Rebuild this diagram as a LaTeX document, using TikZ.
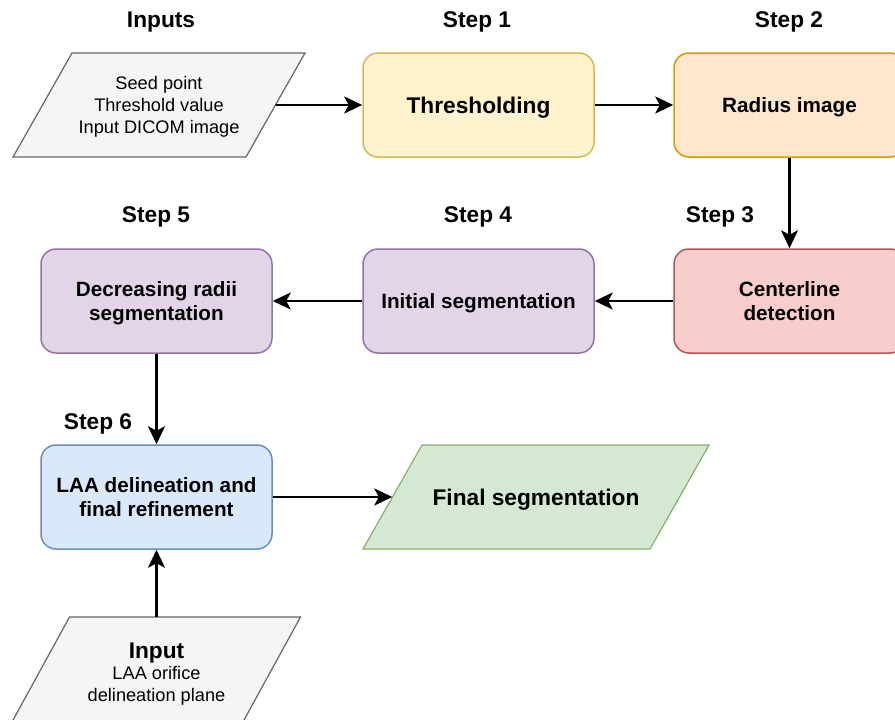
\documentclass[tikz,border=0pt]{standalone}
\usepackage{fontspec}
\setmainfont{Liberation Sans}
\usetikzlibrary{arrows.meta}
\definecolor{grayF}{HTML}{F5F5F5}\definecolor{grayS}{HTML}{666666}
\definecolor{yelF}{HTML}{FFF2CC}\definecolor{yelS}{HTML}{D6B656}
\definecolor{oraF}{HTML}{FFE6CC}\definecolor{oraS}{HTML}{D79B00}
\definecolor{redF}{HTML}{F8CECC}\definecolor{redS}{HTML}{B85450}
\definecolor{purF}{HTML}{E1D5E7}\definecolor{purS}{HTML}{9673A6}
\definecolor{bluF}{HTML}{DAE8FC}\definecolor{bluS}{HTML}{6C8EBF}
\definecolor{grnF}{HTML}{D5E8D4}\definecolor{grnS}{HTML}{82B366}
% parallelogram: center x, center y, top edge length, slant, fill, stroke
\newcommand\myPara[6]{%
  \filldraw[fill=#5, draw=#6, line width=1.2pt]
    ({#1-#3/2+#4/2},{#2-52}) -- ({#1+#3/2+#4/2},{#2-52}) --
    ({#1+#3/2-#4/2},{#2+52}) -- ({#1-#3/2-#4/2},{#2+52}) -- cycle;}
\begin{document}
\begin{tikzpicture}[x=1pt,y=-1pt,
  stepbox/.style={rounded corners=15pt, minimum width=231pt, minimum height=104pt,
    line width=1.5pt, align=center, inner sep=2pt, text depth=0pt,
    font=\fontsize{20.7}{23.3}\selectfont\bfseries},
  bigtext/.style={font=\fontsize{22.7}{26}\selectfont\bfseries},
  paratext/.style={minimum height=104pt, align=center, inner sep=2pt, text depth=0pt,
    font=\fontsize{18.2}{21.8}\selectfont},
  steplabel/.style={font=\fontsize{22.7}{26}\selectfont\bfseries, inner sep=0pt, text depth=0pt},
  conn/.style={line width=2.2pt, -{Stealth[length=18pt,width=17pt,inset=4.5pt]}}
]
\useasboundingbox (0,0) rectangle (895,720);

% parallelogram outlines
\myPara{159}{105}{233}{59}{grayF}{grayS}
\myPara{536}{497}{287}{59}{grnF}{grnS}
\myPara{156.5}{669}{231}{57}{grayF}{grayS}

% nodes
\node[paratext, minimum width=233pt] (in) at (159,105)
  {Seed point\\Threshold value\\Input DICOM image};
\node[stepbox, fill=yelF, draw=yelS, bigtext] (th) at (478.5,105) {Thresholding};
\node[stepbox, fill=oraF, draw=oraS] (rad) at (789.5,105) {Radius image};
\node[stepbox, fill=redF, draw=redS] (cen) at (789.5,301) {Centerline\\detection};
\node[stepbox, fill=purF, draw=purS] (ini) at (478.5,301) {Initial segmentation};
\node[stepbox, fill=purF, draw=purS] (dec) at (156.5,301) {Decreasing radii\\segmentation};
\node[stepbox, fill=bluF, draw=bluS] (laa) at (156.5,497) {LAA delineation and\\final refinement};
\node[paratext, minimum width=287pt, bigtext] (fin) at (536,497) {Final segmentation};
\node[paratext, minimum width=231pt] (inp) at (156.5,672)
  {{\fontsize{22.7}{26}\selectfont\bfseries Input}\\LAA orifice\\delineation plane};
\coordinate (inptop) at (156.5,617);

% labels
\node[steplabel] (l0) at (161,20) {Inputs};
\node[steplabel] (l1) at (477,20) {Step 1};
\node[steplabel] (l2) at (789,20) {Step 2};
\node[steplabel] (l3) at (720,215) {Step 3};
\node[steplabel] (l4) at (478,215) {Step 4};
\node[steplabel] (l5) at (156,215) {Step 5};
\node[steplabel] (l6) at (98,422) {Step 6};

% connectors
\draw[conn] (in.east) -- (th.west);
\draw[conn] (th.east) -- (rad.west);
\draw[conn] (rad.south) -- (cen.north);
\draw[conn] (cen.west) -- (ini.east);
\draw[conn] (ini.west) -- (dec.east);
\draw[conn] (dec.south) -- (laa.north);
\draw[conn] (laa.east) -- (fin.west);
\draw[conn] (inptop) -- (laa.south);
\end{tikzpicture}
\end{document}
